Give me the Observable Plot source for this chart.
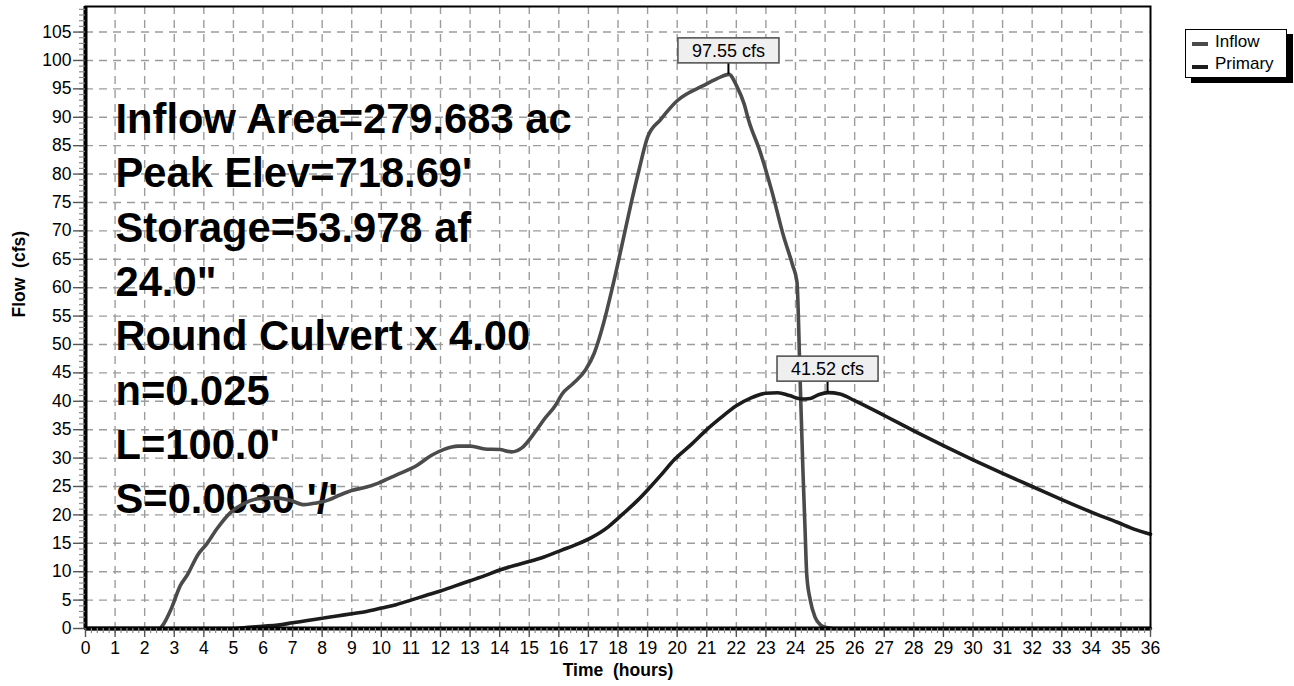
<!DOCTYPE html>
<html>
<head>
<meta charset="utf-8">
<script src="https://cdn.jsdelivr.net/npm/d3@7"></script>
<script src="https://cdn.jsdelivr.net/npm/@observablehq/plot@0.6"></script>
<style>
  html, body { margin: 0; padding: 0; background: #fff; }
  #wrap { position: relative; width: 1294px; height: 686px; font-family: "Liberation Sans", Arial, Helvetica, sans-serif; }
  #wrap svg { display: block; }
  #legend { position: absolute; left: 1185px; top: 29px; width: 100px; height: 47px; border: 1.5px solid #000; background: #fff; box-shadow: 6px 5px 0 #000; }
  .lg-sw { position: absolute; left: 6px; width: 16px; height: 3.5px; }
  .lg-tx { position: absolute; left: 29px; font-size: 17px; line-height: 17px; color: #000; }
</style>
</head>
<body>
<div id="wrap"></div>
<script>
// ---- data ----
const inflowT = [0, 2.5, 2.6, 2.9, 3.2, 3.45, 3.8, 4.1, 4.45, 4.9, 5.35, 5.9, 6.4, 6.9, 7.4, 7.8, 8.2, 8.6, 9.0, 9.5, 9.9, 10.5, 11.2, 11.7, 12.1, 12.6, 13.0, 13.5, 14.0, 14.4, 14.75, 15.2, 15.5, 15.9, 16.1, 16.5, 16.9, 17.2, 17.5, 17.8, 18.1, 18.45, 18.7, 19.0, 19.44, 20.0, 20.9, 21.35, 21.75, 22.03, 22.26, 22.42, 22.8, 23.2, 23.6, 23.9, 24.05, 24.15, 24.25, 24.32, 24.38, 24.5, 24.66, 24.85, 25.0, 25.3, 36];
const inflowQ = [0, 0, 0.5, 3.5, 7.5, 9.5, 13, 14.9, 17.6, 20.4, 22.0, 22.9, 23.0, 22.6, 21.8, 22.1, 22.6, 23.5, 24.3, 24.9, 25.6, 27.0, 28.7, 30.5, 31.5, 32.1, 32.1, 31.6, 31.5, 31.1, 31.8, 34.6, 36.8, 39.4, 41.2, 43.2, 45.5, 48.5, 53.5, 59.8, 66.7, 75.0, 80.5, 86.5, 89.6, 92.9, 95.6, 96.8, 97.55, 95.3, 92.4, 89.4, 84, 77, 69, 64, 61, 45, 28, 17.9, 9.5, 5, 2, 0.6, 0.2, 0, 0];

const primaryT = [0, 5.0, 5.5, 6.0, 6.5, 7.0, 7.5, 8.0, 8.5, 9.0, 9.5, 10.0, 10.5, 11.0, 11.5, 12.0, 12.5, 13.0, 13.5, 14.0, 14.5, 15.0, 15.5, 16.1, 16.6, 17.1, 17.67, 18.0, 18.67, 19.0, 19.45, 19.9, 20.5, 21.0, 21.5, 22.0, 22.5, 23.0, 23.4, 23.8, 24.2, 24.5, 24.8, 25.1, 25.5, 26, 27, 28, 29, 30, 31, 32, 33, 34, 34.88, 35.44, 36];
const primaryQ = [0, 0, 0.2, 0.4, 0.6, 1.0, 1.4, 1.8, 2.2, 2.6, 3.0, 3.6, 4.2, 5.0, 5.8, 6.6, 7.5, 8.4, 9.3, 10.3, 11.1, 11.8, 12.6, 13.8, 14.8, 16.0, 17.9, 19.4, 22.6, 24.4, 27.0, 29.7, 32.5, 35.0, 37.2, 39.2, 40.6, 41.4, 41.5, 41.0, 40.4, 40.5, 41.2, 41.52, 41.3, 40.1, 37.5, 34.8, 32.2, 29.7, 27.3, 25.0, 22.7, 20.5, 18.7, 17.5, 16.6];

const peakT = [21.75, 25.1];
const peakQ = [97.55, 41.52];
const peakLabels = ["97.55 cfs", "41.52 cfs"];

const annotationLines = ["Inflow Area=279.683 ac", "Peak Elev=718.69'", "Storage=53.978 af", "24.0\"", "Round Culvert x 4.00", "n=0.025", "L=100.0'", "S=0.0030 '/'"];

const seriesNames = ["Inflow", "Primary"];
const seriesColors = ["#4b4b4b", "#1c1c1c"];

const xMajorTicks = d3.range(0, 37);
const xMinorTicks = d3.range(0, 181).map(i => i / 5);
const yMajorTicks = d3.range(0, 110, 5);
const yMinorTicks = d3.range(0, 110);
const xGridTicks = d3.range(1, 36);
const yGridTicks = d3.range(5, 110, 5);
const xDomain = [0, 36];
const yDomain = [0, 109.5];

// ---- tables ----
const inflow = inflowT.map((t, i) => ({t, q: inflowQ[i]}));
const primary = primaryT.map((t, i) => ({t, q: primaryQ[i]}));
const peaks = peakT.map((t, i) => ({t, q: peakQ[i], label: peakLabels[i]}));

const FONT = "'Liberation Sans', Arial, Helvetica, sans-serif";
const measureCtx = document.createElement("canvas").getContext("2d");
measureCtx.font = `18px ${FONT}`;

const gridStyle = {stroke: "#9c9c9c", strokeOpacity: 1, strokeWidth: 1.4, strokeDasharray: "8,6"};

const chart = Plot.plot({
  width: 1294,
  height: 686,
  marginLeft: 85,
  marginRight: 144,
  marginTop: 6,
  marginBottom: 58,
  x: {domain: xDomain},
  y: {domain: yDomain},
  style: {fontFamily: FONT, fontSize: "17px", color: "#000", background: "#fff"},
  marks: [
    Plot.gridX(xGridTicks, gridStyle),
    Plot.gridY(yGridTicks, gridStyle),
    Plot.text([annotationLines.join("\n")], {
      frameAnchor: "top-left", dx: 30, dy: 88, lineAnchor: "top", lineHeight: 1.302,
      fontSize: 41.7, fontWeight: "bold", fill: "#000", textAnchor: "start"
    }),
    Plot.line(inflow, {x: "t", y: "q", stroke: seriesColors[0], strokeWidth: 3.6, curve: "monotone-x"}),
    Plot.line(primary, {x: "t", y: "q", stroke: seriesColors[1], strokeWidth: 3.6, curve: "monotone-x"}),
    Plot.frame({stroke: "#000", strokeWidth: 2}),
    Plot.ruleX([xDomain[0]], {stroke: "#000", strokeWidth: 4}),
    Plot.ruleY([yDomain[0]], {stroke: "#000", strokeWidth: 4}),
    Plot.axisY(yMinorTicks, {tickSize: 6, tickFormat: () => "", stroke: "#8a8a8a", strokeWidth: 1.2, label: null}),
    Plot.axisY(yMajorTicks, {tickSize: 12, tickPadding: 2, stroke: "#555", strokeWidth: 1.4, fontSize: 17.5, label: null}),
    Plot.axisX(xMinorTicks, {tickSize: 5, tickFormat: () => "", stroke: "#8a8a8a", strokeWidth: 1.2, label: null}),
    Plot.axisX(xMajorTicks, {tickSize: 9, tickPadding: 4, stroke: "#555", strokeWidth: 1.4, fontSize: 17.5, label: null}),
    Plot.text(["Time\u00a0\u00a0(hours)"], {frameAnchor: "bottom", dy: 47, fontWeight: "bold", fontSize: 17.5, fill: "#000"}),
    Plot.text(["Flow\u00a0\u00a0(cfs)"], {frameAnchor: "left", dx: -66, rotate: -90, fontWeight: "bold", fontSize: 17.5, fill: "#000"}),
    Plot.text(peaks, {
      x: "t", y: "q", text: "label",
      render(index, scales, values) {
        const g = d3.create("svg:g");
        for (const i of index) {
          const cx = values.x[i], cy = values.y[i];
          const label = peaks[i].label;
          const w = measureCtx.measureText(label).width + 28;
          const h = 25, gap = 11;
          g.append("line").attr("x1", cx).attr("x2", cx).attr("y1", cy - gap).attr("y2", cy)
            .attr("stroke", "#000").attr("stroke-width", 2);
          g.append("rect").attr("x", cx - w / 2).attr("y", cy - gap - h).attr("width", w).attr("height", h)
            .attr("fill", "#efefef").attr("stroke", "#555").attr("stroke-width", 1.6);
          g.append("text").attr("x", cx).attr("y", cy - gap - h / 2).attr("dy", "0.36em")
            .attr("text-anchor", "middle").attr("font-size", 18).attr("font-family", FONT).attr("fill", "#000")
            .text(label);
        }
        return g.node();
      }
    })
  ]
});

const wrap = document.getElementById("wrap");
wrap.appendChild(chart);

const legend = document.createElement("div");
legend.id = "legend";
seriesNames.forEach((name, i) => {
  const sw = document.createElement("div");
  sw.className = "lg-sw";
  sw.style.top = (12 + i * 23) + "px";
  sw.style.background = seriesColors[i];
  const tx = document.createElement("div");
  tx.className = "lg-tx";
  tx.style.top = (3 + i * 22) + "px";
  tx.textContent = name;
  legend.appendChild(sw);
  legend.appendChild(tx);
});
wrap.appendChild(legend);
</script>
</body>
</html>
